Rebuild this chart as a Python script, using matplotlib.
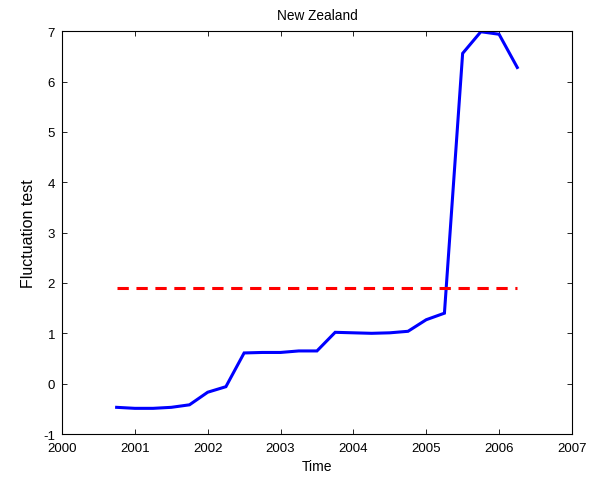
import matplotlib
matplotlib.use("Agg")
import matplotlib.pyplot as plt

plt.rcParams['font.family'] = ['Liberation Sans', 'DejaVu Sans']
plt.rcParams['axes.unicode_minus'] = False

time = [2000.75, 2001.0, 2001.25, 2001.5, 2001.75, 2002.0, 2002.25, 2002.5,
        2002.75, 2003.0, 2003.25, 2003.5, 2003.75, 2004.0, 2004.25, 2004.5,
        2004.75, 2005.0, 2005.25, 2005.5, 2005.75, 2006.0, 2006.25]
fluct = [-0.47, -0.49, -0.49, -0.47, -0.42, -0.17, -0.06, 0.61,
         0.62, 0.62, 0.65, 0.65, 1.02, 1.01, 1.00, 1.01,
         1.04, 1.27, 1.40, 6.56, 6.99, 6.94, 6.28]
crit_value = 1.9
xticks = [2000, 2001, 2002, 2003, 2004, 2005, 2006, 2007]
yticks = [-1, 0, 1, 2, 3, 4, 5, 6, 7]

fig = plt.figure(figsize=(6.02, 4.81), dpi=100)
ax = fig.add_axes([0.103, 0.0956, 0.847, 0.8374])
ax.plot(time, fluct, color='#0000ff', lw=2.2, solid_joinstyle='miter')
ax.plot([time[0], time[-1]], [crit_value, crit_value], color='#ff0000', lw=2.2,
        linestyle=(0, (3.7, 2.5)))
ax.set_xlim(2000, 2007)
ax.set_ylim(-1, 7)
ax.set_xticks(xticks)
ax.set_yticks(yticks)
ax.tick_params(direction='in', top=True, right=True, labelsize=9.5, length=3.6, width=0.6)
ax.tick_params(axis='x', pad=6)
ax.tick_params(axis='y', pad=5)
for s in ax.spines.values():
    s.set_linewidth(0.8)
ax.set_xlabel('Time', fontsize=10, labelpad=3)
ax.set_ylabel('Fluctuation test', fontsize=11.5, labelpad=5)
ax.set_title('New Zealand', fontsize=9.8, pad=9)
fig.savefig('out.png', dpi=100)
